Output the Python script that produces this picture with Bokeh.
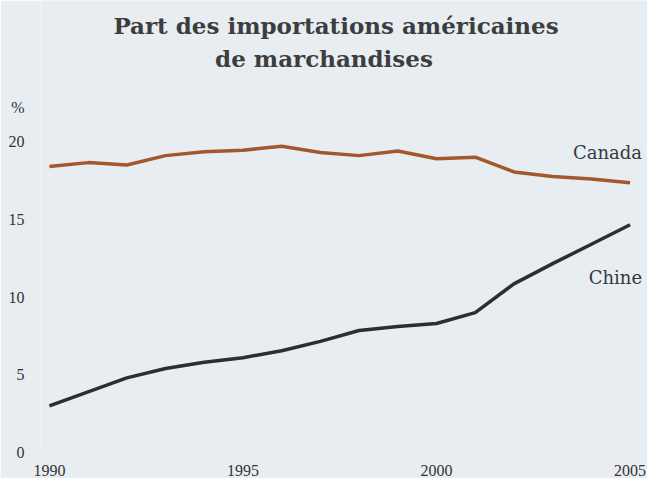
from bokeh.plotting import figure
from bokeh.models import Range1d, FixedTicker
from bokeh.core.properties import value
from bokeh.embed import file_html
from bokeh.resources import INLINE

years = [1990, 1991, 1992, 1993, 1994, 1995, 1996, 1997, 1998, 1999, 2000, 2001, 2002, 2003, 2004, 2005]
canada = [18.4, 18.65, 18.5, 19.1, 19.35, 19.45, 19.7, 19.3, 19.1, 19.4, 18.9, 19.0, 18.05, 17.75, 17.6, 17.35]
chine = [3.0, 3.9, 4.8, 5.4, 5.8, 6.1, 6.55, 7.15, 7.85, 8.1, 8.3, 9.0, 10.85, 12.15, 13.4, 14.65]
y_ticks = [0, 5, 10, 15, 20]
unit_label = "%"
x_ticks = [1990, 1995, 2000, 2005]
title_lines = ["Part des importations américaines", "de marchandises"]
series_names = ["Canada", "Chine"]

BG = "#e8edf2"
Y_TOP = 29.08

p = figure(width=647, height=478, output_backend="svg", toolbar_location=None,
           x_range=Range1d(1989.77, 2005.45), y_range=Range1d(0, Y_TOP),
           min_border_left=40, min_border_right=0, min_border_bottom=0, min_border_top=0)
p.background_fill_color = BG
p.border_fill_color = BG
p.outline_line_color = None
p.grid.visible = False

for ax in (p.xaxis[0], p.yaxis[0]):
    ax.axis_line_color = None
    ax.major_tick_line_color = None
    ax.minor_tick_line_color = None
    ax.major_label_text_font = "Liberation Serif"
    ax.major_label_text_font_size = "16px"
    ax.major_label_text_color = "#333333"

# the unit sign sits just above the top tick label, like a label of the axis
unit_pos = 22.2
p.yaxis.ticker = FixedTicker(ticks=y_ticks + [unit_pos])
p.yaxis.major_label_overrides = {unit_pos: unit_label}
p.yaxis.major_label_standoff = 10
p.xaxis.ticker = FixedTicker(ticks=x_ticks)
p.xaxis.major_label_standoff = 6

# two-line heading, centred over the chart area
x_mid = (p.x_range.start + p.x_range.end) / 2
p.text(x=[x_mid, x_mid], y=[Y_TOP - 1.64, Y_TOP - 3.76], text=title_lines,
       x_offset=[-8, -20], text_align="center", text_baseline="middle",
       text_font=value("DejaVu Serif"), text_font_style="bold", text_font_size="23px",
       text_color="#3d3d3d")

p.line(years, canada, line_color="#a2582b", line_width=3.5)
p.line(years, chine, line_color="#2b2f33", line_width=3.5)

p.text(x=[years[-1]], y=[canada[-1] + 1.95], text=[series_names[0]], text_align="right",
       text_baseline="middle", x_offset=12, text_font=value("DejaVu Serif"), text_font_size="18px",
       text_color="#333a40")
p.text(x=[years[-1]], y=[chine[-1] - 3.4], text=[series_names[1]], text_align="right",
       text_baseline="middle", x_offset=12, text_font=value("DejaVu Serif"), text_font_size="18px",
       text_color="#333a40")

open("out.html", "w").write(file_html(p, INLINE))
